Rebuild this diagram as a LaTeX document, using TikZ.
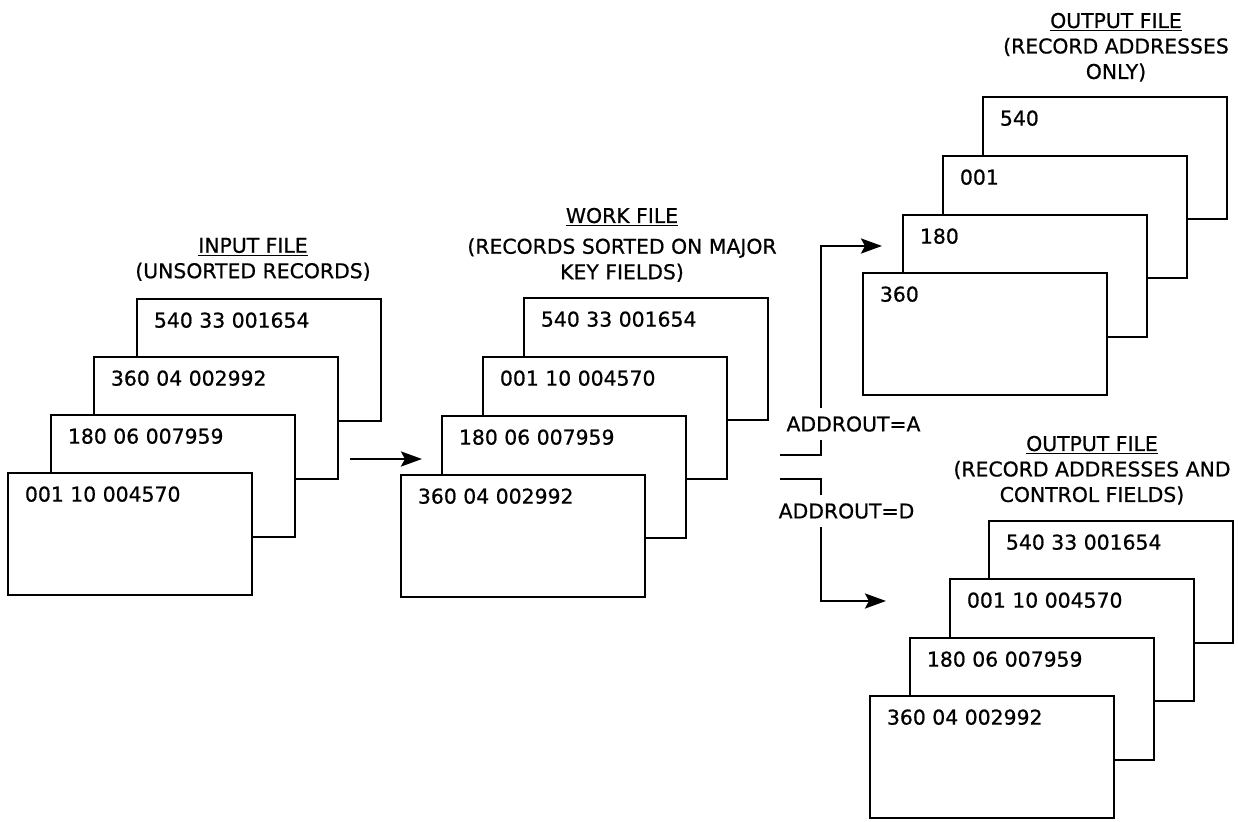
\documentclass[tikz,border=0pt]{standalone}
\usepackage{fontspec}
\setmainfont{DejaVu Sans}
\newfontfamily\recfont[FakeBold=0.7]{DejaVu Sans}
\usepackage{tikz}
\usetikzlibrary{arrows.meta}

\begin{document}
\begin{tikzpicture}[
    card/.style={rectangle, draw, fill=white, line width=1.6pt, minimum width=4.88cm, minimum height=2.44cm, inner sep=0pt},
    rec/.style={anchor=base west, xshift=0.36cm, yshift=-0.60cm, inner sep=0pt, font=\fontsize{11.6}{14.5}\recfont},
    title/.style={anchor=north, align=center, inner sep=0pt, font=\fontsize{11.6}{14.5}\recfont},
    tag/.style={fill=white, inner xsep=1pt, inner ysep=0.17cm, font=\fontsize{11.6}{14.5}\recfont},
    arrow/.style={-{Stealth[length=4.2mm, width=3mm, inset=0.8mm]}, line width=1.6pt}
]
\useasboundingbox (0,0) rectangle (24.76,16.42);

% input file
\node[title] (tin) at (5.06, 11.67) {\underline{INPUT FILE}\\(UNSORTED RECORDS)};
\node[card, label={[rec]north west:540 33 001654}] (in4) at (5.18, 9.22) {};
\node[card, label={[rec]north west:360 04 002992}] (in3) at (4.32, 8.06) {};
\node[card, label={[rec]north west:180 06 007959}] (in2) at (3.46, 6.90) {};
\node[card, label={[rec]north west:001 10 004570}] (in1) at (2.60, 5.74) {};

% work file
\node[title] (twk) at (12.44, 12.27) {\underline{WORK FILE}\\[3pt](RECORDS SORTED ON MAJOR\\KEY FIELDS)};
\node[card, label={[rec]north west:540 33 001654}] (wk4) at (12.92, 9.24) {};
\node[card, label={[rec]north west:001 10 004570}] (wk3) at (12.10, 8.06) {};
\node[card, label={[rec]north west:180 06 007959}] (wk2) at (11.28, 6.88) {};
\node[card, label={[rec]north west:360 04 002992}] (wk1) at (10.46, 5.70) {};

\coordinate (p1) at (7.00, 7.24);
\coordinate (p2) at (8.44, 7.24);
\draw[arrow] (p1) -- (p2);

% ADDROUT forks
\coordinate (fa) at (15.60, 7.32);
\coordinate (ta) at (17.64, 11.50);
\draw[arrow] (fa) -| (16.42, 11.50) -- (ta);
\node[tag] (ada) at (17.07, 7.94) {ADDROUT=A};

\coordinate (fd) at (15.60, 6.84);
\coordinate (td) at (17.72, 4.40);
\draw[arrow] (fd) -| (16.42, 4.40) -- (td);
\node[tag] (add) at (16.93, 6.20) {ADDROUT=D};

% output file, addresses only
\node[title] (toa) at (22.32, 16.17) {\underline{OUTPUT FILE}\\(RECORD ADDRESSES\\ONLY)};
\node[card, label={[rec]north west:540}] (oa4) at (22.10, 13.26) {};
\node[card, label={[rec]north west:001}] (oa3) at (21.30, 12.08) {};
\node[card, label={[rec]north west:180}] (oa2) at (20.50, 10.90) {};
\node[card, label={[rec]north west:360}] (oa1) at (19.70, 9.74) {};

% output file, addresses and control fields
\node[title] (tod) at (21.84, 7.71) {\underline{OUTPUT FILE}\\(RECORD ADDRESSES AND\\CONTROL FIELDS)};
\node[card, label={[rec]north west:540 33 001654}] (od4) at (22.22, 4.78) {};
\node[card, label={[rec]north west:001 10 004570}] (od3) at (21.44, 3.62) {};
\node[card, label={[rec]north west:180 06 007959}] (od2) at (20.64, 2.44) {};
\node[card, label={[rec]north west:360 04 002992}] (od1) at (19.84, 1.28) {};

\end{tikzpicture}
\end{document}
